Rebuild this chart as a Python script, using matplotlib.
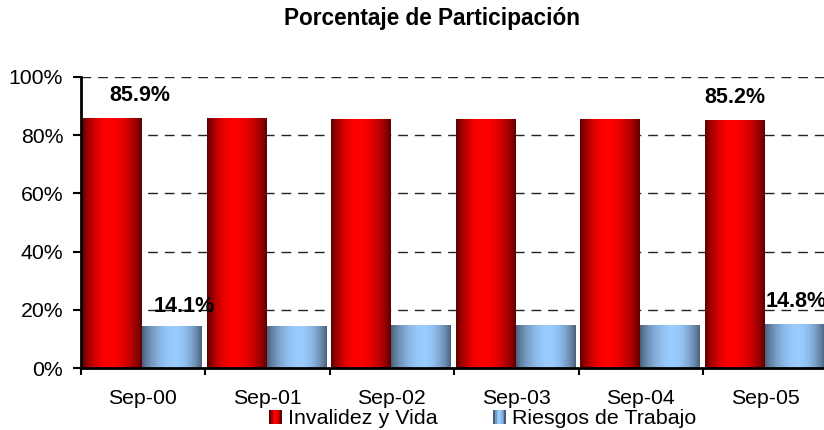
import numpy as np
import matplotlib
matplotlib.use("Agg")
from matplotlib import pyplot as plt
from matplotlib.patches import Rectangle
from matplotlib.legend_handler import HandlerBase

plt.rcParams['font.family'] = ['Liberation Sans', 'DejaVu Sans']

# datos
categorias = ['Sep-00', 'Sep-01', 'Sep-02', 'Sep-03', 'Sep-04', 'Sep-05']
invalidez = [85.9, 85.8, 85.5, 85.5, 85.5, 85.2]
riesgos = [14.1, 14.2, 14.5, 14.5, 14.5, 14.8]
series = ['Invalidez y Vida', 'Riesgos de Trabajo']
yticks = [0, 20, 40, 60, 80, 100]

# colores del degradado (borde oscuro, centro claro)
rojo_osc = np.array([0.36, 0.0, 0.0])
rojo_cla = np.array([1.0, 0.0, 0.0])
azul_osc = np.array([0.29, 0.37, 0.47])
azul_cla = np.array([0.60, 0.80, 1.0])


def degradado(osc, cla, n=100, pico=0.45):
    t = np.linspace(0, 1, n)
    f = np.where(t < pico, t / pico, (1 - t) / (1 - pico))
    f = np.sin(f * np.pi / 2) ** 0.8
    return osc[None, :] + (cla - osc)[None, :] * f[:, None]


class HandlerDegradado(HandlerBase):
    def __init__(self, osc, cla):
        super().__init__()
        self.osc = osc
        self.cla = cla

    def create_artists(self, legend, orig_handle, xdescent, ydescent,
                       width, height, fontsize, trans):
        n = 8
        cols = degradado(self.osc, self.cla, n)
        arts = []
        for k in range(n):
            r = Rectangle((-xdescent + k * width / n, -ydescent), width / n + 0.3,
                          height, facecolor=cols[k], edgecolor='none',
                          transform=trans)
            arts.append(r)
        return arts


fig = plt.figure(figsize=(8.24, 4.30), dpi=100)
ax = fig.add_axes([80.5 / 824, 62 / 430, 747 / 824, 291 / 430])

x = np.arange(len(categorias))
ancho = 0.48
pos_r = x - 0.5 + 0.016 + ancho / 2
pos_b = pos_r + ancho

grad_r = degradado(rojo_osc, rojo_cla, pico=0.45)
grad_b = degradado(azul_osc, azul_cla, pico=0.55)

for i in range(len(categorias)):
    ax.imshow(grad_r[None, :, :], extent=[pos_r[i] - ancho / 2, pos_r[i] + ancho / 2, 0, invalidez[i]],
              aspect='auto', zorder=3, interpolation='bilinear')
    ax.imshow(grad_b[None, :, :], extent=[pos_b[i] - ancho / 2, pos_b[i] + ancho / 2, 0, riesgos[i]],
              aspect='auto', zorder=3, interpolation='bilinear')

# etiquetas de datos (solo primer y ultimo periodo)
ax.text(pos_r[0] + 0.22, invalidez[0] + 7.8, '%.1f%%' % invalidez[0], ha='center', va='center',
        fontsize=15.5, fontweight='bold', zorder=5)
ax.text(pos_b[0] + 0.10, riesgos[0] + 6.9, '%.1f%%' % riesgos[0], ha='center', va='center',
        fontsize=15.5, fontweight='bold', zorder=5)
ax.text(pos_r[-1], invalidez[-1] + 7.9, '%.1f%%' % invalidez[-1], ha='center', va='center',
        fontsize=15.5, fontweight='bold', zorder=5, clip_on=False)
ax.text(pos_b[-1] + 0.01, riesgos[-1] + 8.2, '%.1f%%' % riesgos[-1], ha='center', va='center',
        fontsize=15.5, fontweight='bold', zorder=5, clip_on=False)

ax.set_xlim(-0.5, len(categorias) - 0.5)
ax.set_ylim(0, 100)

ax.set_yticks(yticks)
ax.set_yticklabels(['%d%%' % v for v in yticks], fontsize=15.3)
ax.set_xticks(np.arange(len(categorias) + 1) - 0.5)
ax.set_xticklabels([])
ax.set_xticks(x, minor=True)
ax.set_xticklabels(categorias, minor=True, fontsize=15.3)
ax.tick_params(axis='x', which='minor', length=0, pad=15)
ax.tick_params(axis='x', which='major', direction='out', length=5, width=1.5)
ax.tick_params(axis='y', direction='out', length=5.5, width=1.5, pad=7)

for v in yticks[1:]:
    ax.axhline(v, color='#222222', lw=1, dashes=(7, 5), zorder=1)

for s in ['top', 'right']:
    ax.spines[s].set_visible(False)
for s in ['left', 'bottom']:
    ax.spines[s].set_linewidth(2)
    ax.spines[s].set_zorder(6)

fig.text(432 / 824, 1 - 18 / 430, 'Porcentaje de Participación', ha='center', va='center',
         fontsize=16.3, fontweight='bold')

h1 = Rectangle((0, 0), 1, 1)
h2 = Rectangle((0, 0), 1, 1)
fig.legend([h1, h2], series, loc='center', bbox_to_anchor=(483 / 824, 1 - 419 / 430),
           ncol=2, frameon=False, fontsize=15.4, handlelength=0.58, handleheight=0.58,
           handletextpad=0.3, columnspacing=2.6, borderaxespad=0,
           handler_map={h1: HandlerDegradado(rojo_osc, rojo_cla),
                        h2: HandlerDegradado(azul_osc, azul_cla)})

fig.savefig('out.png', dpi=100)
